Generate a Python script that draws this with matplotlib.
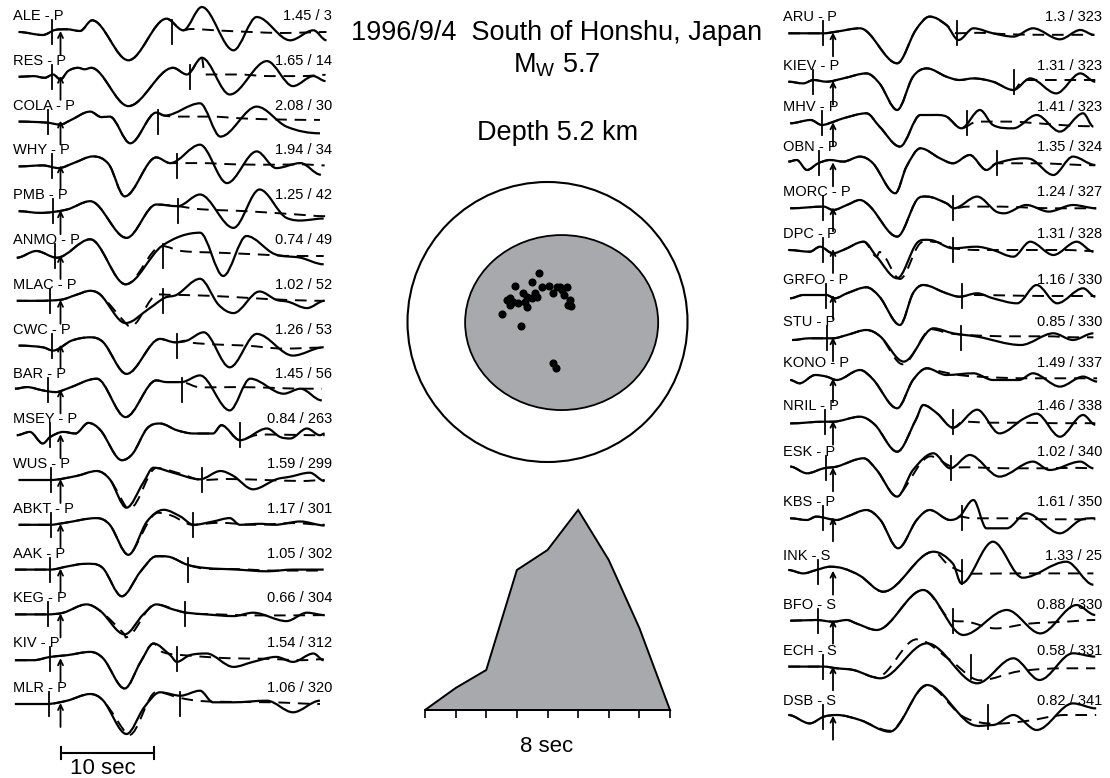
import matplotlib.pyplot as plt
from matplotlib.path import Path
from matplotlib.patches import PathPatch, Circle, Ellipse

plt.rcParams['font.family'] = ['Liberation Sans', 'DejaVu Sans']
plt.rcParams['mathtext.fontset'] = 'custom'
plt.rcParams['mathtext.rm'] = 'Liberation Sans'

# ---------------- data ----------------
# left column: station, amplitude ratio, azimuth, window start / end (s after pick)
left_names = ['ALE - P', 'RES - P', 'COLA - P', 'WHY - P', 'PMB - P', 'ANMO - P', 'MLAC - P', 'CWC - P',
              'BAR - P', 'MSEY - P', 'WUS - P', 'ABKT - P', 'AAK - P', 'KEG - P', 'KIV - P', 'MLR - P']
left_ratio = [1.45, 1.65, 2.08, 1.94, 1.25, 0.74, 1.02, 1.26, 1.45, 0.84, 1.59, 1.17, 1.05, 0.66, 1.54, 1.06]
left_azim = [3, 14, 30, 34, 42, 49, 52, 53, 56, 263, 299, 301, 302, 304, 312, 320]
left_win_start = [-0.9, -0.9, -1.3, -0.9, -0.8, -0.6, -1.1, -0.9, -1.3, -1.1, -1.0, -1.0, -1.1, -1.3, -1.1, -1.2]
left_win_end = [12.0, 13.9, 10.5, 12.5, 12.6, 11.0, 11.0, 12.5, 13.1, 19.3, 15.2, 14.2, 13.7, 13.4, 12.5, 12.9]

right_names = ['ARU - P', 'KIEV - P', 'MHV - P', 'OBN - P', 'MORC - P', 'DPC - P', 'GRFO - P', 'STU - P',
               'KONO - P', 'NRIL - P', 'ESK - P', 'KBS - P', 'INK - S', 'BFO - S', 'ECH - S', 'DSB - S']
right_ratio = [1.3, 1.31, 1.41, 1.35, 1.24, 1.31, 1.16, 0.85, 1.49, 1.46, 1.02, 1.61, 1.33, 0.88, 0.58, 0.82]
right_azim = [323, 323, 323, 324, 327, 328, 330, 330, 337, 338, 340, 350, 25, 330, 331, 341]
right_win_start = [-1.1, -2.2, -1.2, -1.5, -1.1, -1.1, -0.8, -0.6, None, -0.9, -0.8, -1.1, -1.6, -1.6, -1.1, -1.1]
right_win_end = [13.3, 19.5, 14.4, 17.6, 12.9, 12.9, 13.9, 13.8, None, 12.9, 12.7, 13.9, 13.9, 12.9, 14.8, 16.7]

# observed waveforms: (time s, amplitude) turning points; synthetic: part after it departs from the data
ALE_obs = [(-4.5, 0), (-1.9, -3), (-0.6, 2), (0.7, 2.7), (2.1, 1), (3.4, 11.7), (7.3, -28.3), (11.4, 13.3), (13.2, 1.7),
           (15.2, 25), (18.6, -18.3), (21.1, 15), (24.7, -8.3), (27.2, 1.7), (28.6, -8.3)]
ALE_syn = [(14.0, 3), (17.0, 1.5), (20.5, 0), (24.0, -1), (28.6, 0)]
RES_obs = [(-4.5, 0), (-2.9, 0.7), (-1.7, -1), (-0.8, 2.3), (0, -2.7), (0.8, 5.7), (1.9, 9), (2.6, 7.5), (3.3, 9),
           (7.3, -29.3), (12.1, 9), (13.6, 2.3), (15.2, 19), (18.2, -17.7), (22.2, 15.7), (25.0, -9.3), (27.2, 0.7), (28.5, -4.3)]
RES_syn = [(15.5, 2.3), (19.0, 2.3), (22.5, 0.7), (26.0, 0.7), (28.5, 2)]
COLA_obs = [(-4.5, 0), (-1.5, -1), (0, -3), (1.0, 1), (3.2, 10), (4.4, 4.5), (5.3, 5), (7.5, -21.7), (10.3, 9), (11.2, 6),
            (15.0, 18.3), (17.2, -15), (21.1, 15), (24.3, -5), (27.9, -11.7)]
COLA_syn = [(12.5, 5), (16.0, 5), (20.0, 3), (24.0, 2), (27.9, 1.7)]
WHY_obs = [(-4.5, 0), (-1.9, 1), (-0.2, -1.7), (1.4, 3.3), (3.5, 10), (5.2, 2), (6.9, -30), (10.3, 9), (11.8, 3.3),
           (15.0, 21.7), (17.9, -16.7), (21.1, 15), (23.2, -1.7), (25.8, 3.3), (28.0, -8.3)]
WHY_syn = [(15.0, 3.3), (19.0, 2), (23.0, 1.7), (26.0, 2), (28.4, 1)]
PMB_obs = [(-4.5, 0), (-2.2, -1.7), (0.7, 1.7), (3.2, 10), (7.1, -26.7), (10.3, 6.7), (12.6, 5), (15.0, 16.7),
           (18.6, -16.7), (21.4, 21.7), (24.3, -6.7), (28.3, -7.3)]
PMB_syn = [(15.0, 2), (20.0, 0), (25.0, -3), (28.5, -5)]
ANMO_obs = [(-4.7, -1.7), (-2.6, 5), (-0.4, -1.7), (3.2, 16.7), (7.0, -28.3), (10.9, 10), (15.0, 23.3), (17.5, -20),
            (20.0, 20), (23.0, 2), (25.8, -1.7), (28.3, -8.3)]
ANMO_syn = [(13.0, 5), (17.0, 3.3), (21.0, 1.7), (25.0, 0), (28.3, 0)]
MLAC_obs = [(-4.7, 0), (0, 1), (1.7, 6), (3.2, 10), (4.3, 6), (7.0, -22.3), (9.5, -8), (11.2, 3), (12.5, 6), (15.0, 22),
            (17.0, -4), (18.6, -12.3), (21.4, 9.3), (23.2, 1), (24.5, -1), (26.5, -7.3), (28.4, 0)]
MLAC_syn = [(7.5, -26), (10.0, 4), (11.5, 6), (16.0, 5), (20.0, 3), (24.0, 1), (28.4, 0)]
CWC_obs = [(-4.5, 0), (-1.9, -1.7), (-0.8, -5), (1.2, 5), (3.2, 8.3), (4.6, 3.3), (7.1, -28.3), (10.7, 6.7), (12.3, 3.3),
           (13.6, 5), (15.4, 13.3), (18.2, -21.7), (21.1, 11.7), (25.0, -10), (28.3, -1.7)]
CWC_syn = [(14.0, 3), (17.0, 1), (20.0, 0), (24.0, -3), (28.3, -2)]
BAR_obs = [(-4.9, 1.7), (-3.6, 3.3), (-1.9, 0), (-0.5, -1.7), (0.7, 1.7), (3.9, 11.7), (7.0, -26.7), (10.3, 10),
           (11.4, 8.3), (13.0, 8.3), (15.0, 15), (18.2, -20), (20.4, 11.7), (24.0, -3.3), (25.8, 1.7), (28.1, -10)]
BAR_syn = [(15.0, 3), (19.0, 3.3), (23.0, 2.5), (26.0, 1.7), (28.1, 1.7)]
MSEY_obs = [(-4.7, 0), (-3.3, 3.3), (-1.9, -8.3), (-1.1, -1.7), (0.3, 3.3), (1.6, 1.7), (3.0, 12.3), (4.3, 5),
            (6.6, -25), (7.8, -18), (9.3, 6.7), (10.7, 11.7), (12.5, 5), (14.3, 1.7), (16.4, 1.7), (17.3, 10),
            (19.3, -5), (22.2, 6.7), (23.6, -1.7), (24.7, -3.3), (26.5, 6.7), (27.9, 0), (28.4, 1.7)]
MSEY_syn = [(21.0, 0), (24.0, 0.5), (27.0, 0), (28.4, 0)]
WUS_obs = [(-4.5, 0), (-1.1, 0), (1.7, 4), (3.9, 9), (5.3, 0.7), (7.1, -27.7), (8.9, -2.7), (10.0, 12.3), (12.1, 7.3),
           (15.0, 0.7), (17.2, 9), (18.6, 4), (20.7, -9.3), (23.2, 0.7), (24.7, 3.3), (26.8, 7.3), (28.4, -1)]
WUS_syn = [(7.5, -28), (10.3, 12), (13.0, 6), (15.2, 0), (18.0, 1), (22.0, 0), (26.0, -1), (28.4, 0)]
ABKT_obs = [(-4.5, 0), (-1.1, 0), (0.3, 1.7), (3.9, 6.7), (5.3, 0), (7.3, -30), (9.3, 3.3), (11.1, 15), (12.9, 8.3),
            (14.3, 0), (16.4, 3.3), (18.2, 6.7), (19.3, 0), (21.5, 1), (23.0, 0), (25.8, 3.3), (28.4, -0.7)]
ABKT_syn = [(7.6, -29), (10.5, 12), (12.0, 9), (14.2, 0), (17.0, 2), (21.0, 0), (25.0, 1.7), (28.4, 0)]
AAK_obs = [(-4.9, 0), (-1.1, 0), (0.8, 3.3), (2.5, 5.7), (4.5, 2), (6.6, -26.7), (8.6, -2), (10.3, 13.3), (11.8, 12.5),
           (13.6, 5), (15.5, 1.7), (19.0, 0), (22.2, -1.7), (25.0, 0), (28.3, 0)]
AAK_syn = [(15.5, 1), (19.0, 0.5), (23.0, -1), (28.3, -1)]
KEG_obs = [(-4.9, 0), (-1.5, 0), (0.3, 1.7), (2.8, 10), (4.3, 3.3), (6.9, -20), (8.9, 0), (10.3, 10), (12.1, 5),
           (13.6, 1.7), (15.7, 0), (18.6, -1.7), (20.7, 1.7), (24.3, -6.7), (26.5, 1.7), (28.4, -0.7)]
KEG_syn = [(7.0, -23), (10.2, 10), (13.4, 1.7), (17.0, 0), (21.0, -1), (25.0, -1), (28.4, -0.7)]
KIV_obs = [(-4.9, -1), (-2.9, -1), (-1.1, 2.3), (0.7, 4), (3.2, 7.3), (4.6, 0.7), (6.9, -29.3), (8.6, -3), (10.0, 15.7),
           (11.8, 4), (12.5, -2.7), (13.9, 4), (15.7, 5.7), (18.6, -7.7), (20.7, -2.7), (23.2, 2.3), (25.0, -2.7),
           (27.2, 5.7), (28.3, -1)]
KIV_syn = [(11.0, 7), (14.0, 3.5), (18.0, 1), (22.0, 0.5), (26.0, -1), (28.3, 0)]
MLR_obs = [(-4.9, 0), (-1.5, 0), (0.7, 3.3), (3.2, 10), (4.6, 3.3), (7.1, -30), (9.0, -3.3), (10.7, 11.7), (12.9, 8.3),
           (15.0, 13.3), (16.4, 1.7), (18.6, 1.7), (22.2, 3.3), (25.0, -8.3), (27.9, 3.3)]
MLR_syn = [(7.4, -31), (10.3, 12), (12.9, 6), (15.0, 3), (19.0, 2), (23.0, 1.7), (26.0, 0.5), (27.9, 0)]

ARU_obs = [(-4.8, 0), (-1.0, 0), (0.4, 1.7), (2.9, 5), (6.9, -30), (8.9, 3.3), (10.4, 16.7), (12.2, 8.3), (13.5, -6.7),
           (15.1, 5), (17.2, 0), (19.4, -3.3), (21.5, 5), (24.4, -6), (26.6, 3.3), (28.1, -1.7)]
ARU_syn = [(13.3, 0), (15.5, 0.5), (19.0, -1), (23.0, -1.5), (28.1, -1.5)]
KIEV_obs = [(-4.8, 0), (-3.2, -1.7), (-2.1, 1.7), (-0.7, 0), (1.1, 3.3), (3.6, 8.3), (5.0, -1.7), (6.9, -28.3), (8.6, 5),
            (10.1, 13.3), (12.2, 5), (13.6, 1.7), (15.1, 3.3), (17.2, 0), (19.4, -8.3), (21.2, 3.3), (24.0, -11.7),
            (26.6, 8.3), (28.2, 0)]
KIEV_syn = [(20.5, 1.7), (23.0, 1.7), (26.0, 1.7), (28.2, 1.7)]
MHV_obs = [(-4.6, 0), (-2.4, 3.3), (-1.2, -1.7), (0.1, 1.7), (1.1, 5), (3.6, 10), (5.0, -3.3), (7.2, -23.3), (9.4, 8.3),
           (10.8, 8.3), (12.2, 6.7), (13.8, -5), (15.8, 13.3), (17.2, -1.7), (19.4, -5), (21.9, 8.3), (24.4, -8.3),
           (26.9, 10), (28.0, -3.3)]
MHV_syn = [(15.5, 1.7), (19.0, 1.7), (22.0, 0), (25.0, -2), (28.0, -3)]
OBN_obs = [(-4.8, 1.7), (-3.9, 3.3), (-2.8, -6.7), (-1.6, 0), (-0.3, 3.3), (1.1, 1.7), (2.9, 6.7), (4.3, 0), (6.7, -30),
           (7.9, -3.3), (9.4, 15), (11.5, 5), (12.9, 0), (14.7, 8.3), (16.5, -6.7), (17.6, 0), (20.5, 5), (21.5, 3.3),
           (23.7, -11.7), (25.8, 6.7), (28.2, -1.7)]
OBN_syn = [(19.0, 0), (22.0, 0), (25.0, -1), (28.2, -2)]
MORC_obs = [(-4.6, 0), (-1.0, 1.7), (0, -1.7), (1.5, 3.3), (2.9, 8.3), (4.0, 1.7), (6.9, -28.3), (9.0, 8.3), (10.1, 11.7),
            (12.2, 5), (13.0, 0), (15.5, 11.7), (17.5, -3), (18.4, -5), (20.8, 3.3), (23.2, -3.3), (25.8, 3.3), (28.3, 0)]
MORC_syn = [(14.5, 1.7), (18.0, 1.7), (21.0, 0.7), (24.0, 0), (28.3, 0)]
DPC_obs = [(-4.8, 0), (-2.5, -1.7), (-1.4, 3.3), (0, -3.3), (1.1, 0), (3.3, 8.3), (4.7, -6.7), (6.9, -28.3), (9.0, 6.7),
           (10.4, 10), (12.9, 1.7), (15.4, 3.3), (17.2, 0), (19.4, -6.7), (21.2, 8.3), (23.7, -5), (26.2, 8.3), (28.0, -1.7)]
DPC_syn = [(5.0, -2), (7.2, -29), (9.3, 6), (11.0, 8), (13.0, 1.7), (16.0, 0), (19.0, 0), (22.0, 0), (25.0, 0), (28.0, -1)]
GRFO_obs = [(-4.6, -2.3), (-3.2, 1), (-0.7, 1), (0.2, -2.3), (1.5, 2.7), (3.6, 8.7), (5.0, -0.7), (7.2, -29), (8.6, 2.7),
            (9.7, 11), (12.2, 2.7), (13.6, -0.7), (15.5, 2.7), (17.2, -2.3), (19.8, -7.3), (21.9, 11), (24.1, -7.3),
            (26.9, 7.7), (28.2, -0.7)]
GRFO_syn = [(15.0, 1), (19.0, 0.5), (23.0, 0), (28.2, 0)]
STU_obs = [(-4.4, -1.7), (-2.5, 0), (0, 0), (1.5, 3.3), (3.6, 8.3), (5.1, 1.7), (7.6, -23.3), (10.8, 10), (12.9, 5),
           (15.5, 1.7), (20.2, -6.7), (23.7, 5), (25.8, -1.7), (28.0, 5)]
STU_syn = [(7.5, -26), (10.6, 9), (12.5, 5), (15.0, 3), (19.0, 2), (23.0, 2), (26.0, 1), (28.0, 1)]
KONO_obs = [(-4.6, -0.7), (-3.6, -4), (-1.9, 4.3), (-0.7, 2.7), (0.4, -0.7), (2.9, 9.3), (4.3, 0), (6.9, -29), (8.6, -0.7),
            (10.1, 11), (12.2, 4.3), (15.1, 6), (17.2, -0.7), (20.0, -0.7), (21.5, 6), (24.4, -7.3), (26.9, 2.7), (28.4, -2.3)]
KONO_syn = [(11.0, 9), (13.5, 4.3), (17.0, 2), (21.0, 1), (25.0, 1), (28.4, 1)]
NRIL_obs = [(-4.6, -1.7), (-1.0, 0), (0, 0), (2.9, 5), (4.5, -3), (6.9, -30), (8.9, 1.7), (9.7, 16.7), (11.2, 8.3),
            (12.9, -6), (15.5, 12), (17.9, -11.7), (20.5, 3), (21.9, 8), (24.4, -15), (26.9, 6.7), (28.2, -3)]
NRIL_syn = [(14.0, 0), (17.0, -1), (20.0, -1), (24.0, -1.5), (28.2, -1.5)]
ESK_obs = [(-4.6, 1.7), (-2.8, -5), (-1.0, 0), (0.4, 1.7), (3.3, 10), (4.7, -1.7), (6.9, -28.3), (8.6, -1.7), (10.8, 15),
           (12.6, 0), (14.7, 13.3), (17.9, -8.3), (21.5, 6.7), (23.3, -1.7), (26.6, 6.7), (28.0, 0)]
ESK_syn = [(7.3, -25), (10.5, 12), (12.7, 2), (15.0, 1), (19.0, 0), (23.0, 0), (26.0, 0.5), (28.0, 0)]
KBS_obs = [(-4.6, 0), (-2.8, -1.7), (-1.8, 1.7), (0.4, -1.7), (1.5, 1.7), (3.6, 8.3), (5.1, -1.7), (7.0, -30), (9.0, -1.7),
           (10.4, 8.3), (12.6, -1.7), (13.6, 1.7), (15.1, 18.3), (16.5, -10), (18.7, -10), (20.8, 5), (24.4, -15),
           (26.6, -1.7), (28.2, 0)]
KBS_syn = [(15.0, 0), (19.0, 0), (23.0, -1), (28.2, -1)]
INK_obs = [(-4.8, 1.7), (-3.2, -1.7), (-1.8, 1.7), (-0.3, 5), (1.1, 3.3), (2.9, -4), (5.4, -20), (10.8, 20), (12.9, 8),
           (13.8, -11.7), (17.2, 30), (20.4, -6), (25.1, 10), (28.0, -13)]
INK_syn = [(12.5, 6), (15.0, -2), (20.0, -1.7), (25.0, -1.7), (28.0, -1.7)]
BFO_obs = [(-4.6, 0), (-1.8, 0.7), (0, -1), (1.5, 0.7), (2.5, -2.7), (4.7, -9.3), (9.7, 30.7), (14.0, -14.3), (18.7, 10.7),
           (22.3, -12.7), (26.2, 15.7), (28.2, 5.7)]
BFO_syn = [(12.5, 2), (14.5, -1), (17.5, -7.7), (21.0, -3), (25.0, -1), (28.2, 0.7)]
ECH_obs = [(-4.8, 0.7), (-1.0, 0.7), (0.4, -1), (2.2, -2.7), (5.1, -11), (10.1, 24), (15.5, -16), (19.4, 9), (22.2, -12.7),
           (25.8, 14), (28.2, 10.7)]
ECH_syn = [(4.7, -10), (9.0, 28), (12.5, 8), (15.8, -13), (20.0, -4), (25.0, -1), (28.2, -1)]
DSB_obs = [(-4.8, 1.7), (-2.5, -6.7), (-1.0, 0), (0.4, 1.7), (2.9, -3.3), (6.1, -15), (10.1, 31.7), (14.7, -6.7),
           (17.2, -8.3), (19.4, 1.7), (21.9, -13.3), (25.8, 13.3), (28.3, 8.3)]
DSB_syn = [(6.1, -14), (10.1, 31), (14.0, 0), (17.5, -7), (21.0, -4), (25.0, 1.7), (28.3, 1.7)]

left_obs = [ALE_obs, RES_obs, COLA_obs, WHY_obs, PMB_obs, ANMO_obs, MLAC_obs, CWC_obs,
            BAR_obs, MSEY_obs, WUS_obs, ABKT_obs, AAK_obs, KEG_obs, KIV_obs, MLR_obs]
left_syn = [ALE_syn, RES_syn, COLA_syn, WHY_syn, PMB_syn, ANMO_syn, MLAC_syn, CWC_syn,
            BAR_syn, MSEY_syn, WUS_syn, ABKT_syn, AAK_syn, KEG_syn, KIV_syn, MLR_syn]
right_obs = [ARU_obs, KIEV_obs, MHV_obs, OBN_obs, MORC_obs, DPC_obs, GRFO_obs, STU_obs,
             KONO_obs, NRIL_obs, ESK_obs, KBS_obs, INK_obs, BFO_obs, ECH_obs, DSB_obs]
right_syn = [ARU_syn, KIEV_syn, MHV_syn, OBN_syn, MORC_syn, DPC_syn, GRFO_syn, STU_syn,
             KONO_syn, NRIL_syn, ESK_syn, KBS_syn, INK_syn, BFO_syn, ECH_syn, DSB_syn]

# focal sphere: station positions (unit = sphere radius)
sta_x = [-0.059, -0.113, -0.232, -0.041, 0.013, 0.066, 0.089, 0.137, 0.041, 0.118, 0.161, 0.149, 0.166, -0.173, -0.149,
         -0.113, -0.077, -0.268, -0.291, -0.244, -0.268, -0.209, -0.161, -0.149, -0.327, -0.189, 0.041, 0.061, -0.089, 0.101]
sta_y = [0.348, 0.284, 0.257, 0.252, 0.257, 0.252, 0.248, 0.248, 0.205, 0.193, 0.157, 0.121, 0.114, 0.205, 0.181,
         0.169, 0.181, 0.169, 0.157, 0.145, 0.121, 0.134, 0.145, 0.109, 0.057, -0.026, -0.295, -0.326, 0.205, 0.229]

# source time function (normalised moment rate, 1 s steps)
stf_t = [0, 1, 2, 3, 4, 5, 6, 7, 8]
stf_a = [0, 0.11, 0.2, 0.7, 0.8, 1.0, 0.75, 0.41, 0]

# ---------------- layout (pixels) ----------------
W, H = 1110, 778
PX_PER_S = 9.3
left_pick_px, right_pick_px = 60.5, 833
left_base = [32 + 44.8 * i for i in range(16)]
right_base = [33.3, 81.7, 123.3, 163.3, 208.3, 250, 296, 338.3, 379.3, 421.7, 468.3, 518.3, 571.7, 620.7, 667.3, 716.7]

fig = plt.figure(figsize=(W / 100, H / 100), dpi=100)


def px_axes(x0, y0, w, h):
    return fig.add_axes([x0 / W, 1 - (y0 + h) / H, w / W, h / H])


def wave_path(knots, base):
    t = [k[0] for k in knots]
    a = [k[1] for k in knots]
    n = len(t)
    m = []
    for i in range(n):
        if 0 < i < n - 1 and (a[i] - a[i - 1]) * (a[i + 1] - a[i]) > 0:
            m.append((a[i + 1] - a[i - 1]) / (t[i + 1] - t[i - 1]))
        else:
            m.append(0.0)
    verts = [(t[0], base - a[0])]
    codes = [Path.MOVETO]
    for i in range(1, n):
        h = (t[i] - t[i - 1]) / 3
        verts += [(t[i - 1] + h, base - (a[i - 1] + m[i - 1] * h)),
                  (t[i] - h, base - (a[i] - m[i] * h)), (t[i], base - a[i])]
        codes += [Path.CURVE4] * 3
    return Path(verts, codes)


def draw_column(pick_px, names, ratio, azim, t0s, t1s, obs, syn, bases, label_px, value_px):
    ax = px_axes(pick_px - 5 * PX_PER_S, 0, 34 * PX_PER_S, H)
    ax.set_xlim(-5, 29)
    ax.set_ylim(H, 0)
    ax.axis('off')
    lx = (label_px - pick_px) / PX_PER_S
    vx = (value_px - pick_px) / PX_PER_S
    for i in range(len(names)):
        b = bases[i]
        s = [k for k in obs[i] if k[0] < syn[i][0][0]] + syn[i]
        ax.add_patch(PathPatch(wave_path(s, b), fill=False, ec='k', lw=1.4, ls=(0, (6, 4)),
                               capstyle='butt', clip_on=False))
        ax.add_patch(PathPatch(wave_path(obs[i], b), fill=False, ec='k', lw=1.6, clip_on=False))
        for tt in (t0s[i], t1s[i]):
            if tt is not None:
                ax.plot([tt, tt], [b - 12, b + 12], color='k', lw=1.3, clip_on=False)
        ax.annotate('', xy=(0, b - 1), xytext=(0, b + 23),
                    arrowprops=dict(arrowstyle='->', lw=1.3, color='k', shrinkA=0, shrinkB=0,
                                    mutation_scale=9))
        ax.text(lx, b - 16, names[i], fontsize=10.5, ha='left', va='center', clip_on=False)
        ax.text(vx, b - 16, f'{ratio[i]:g} / {azim[i]}', fontsize=10.5, ha='right', va='center',
                clip_on=False)
    return ax


axl = draw_column(left_pick_px, left_names, left_ratio, left_azim, left_win_start, left_win_end,
                  left_obs, left_syn, left_base, 13, 332)
draw_column(right_pick_px, right_names, right_ratio, right_azim, right_win_start, right_win_end,
            right_obs, right_syn, right_base, 783, 1102)

# 10 s scale bar
axl.plot([0, 10], [753, 753], color='k', lw=1.5)
axl.plot([0, 0], [747, 759], color='k', lw=1.5)
axl.plot([10, 10], [747, 759], color='k', lw=1.5)
axl.text(4.6, 769, '10 sec', fontsize=16, ha='center', va='center')

# titles
fig.text(557 / W, 1 - 33 / H, '1996/9/4  South of Honshu, Japan', fontsize=19.5, ha='center', va='center')
fig.text(557 / W, 1 - 65 / H, r'M$_\mathrm{W}$ 5.7', fontsize=19.5, ha='center', va='center')
fig.text(558 / W, 1 - 133 / H, 'Depth 5.2 km', fontsize=19.5, ha='center', va='center')

# focal sphere
axs = px_axes(407.5, 182, 280, 280)
axs.set_xlim(-1, 1)
axs.set_ylim(-1, 1)
axs.axis('off')
axs.add_patch(Circle((0, 0), 1, fill=False, ec='k', lw=1.5, clip_on=False))
axs.add_patch(Ellipse((0.101, -0.004), 1.379, 1.25, fc='#a7a9ac', ec='k', lw=1.3))
axs.scatter(sta_x, sta_y, s=34, c='k', zorder=3, linewidths=0)

# source time function
axt = px_axes(425, 510, 245, 200)
axt.fill(stf_t, stf_a, fc='#a7a9ac', ec='k', lw=1.4, clip_on=False)
axt.set_xlim(0, 8)
axt.set_ylim(0, 1)
for sp in ['top', 'right', 'left']:
    axt.spines[sp].set_visible(False)
axt.spines['bottom'].set_linewidth(1.3)
axt.set_xticks(stf_t)
axt.set_xticklabels([])
axt.set_yticks([])
axt.tick_params(axis='x', direction='out', length=6, width=1.2)
fig.text(547 / W, 1 - 746 / H, '8 sec', fontsize=16, ha='center', va='center')

fig.savefig('out.png', dpi=100)
